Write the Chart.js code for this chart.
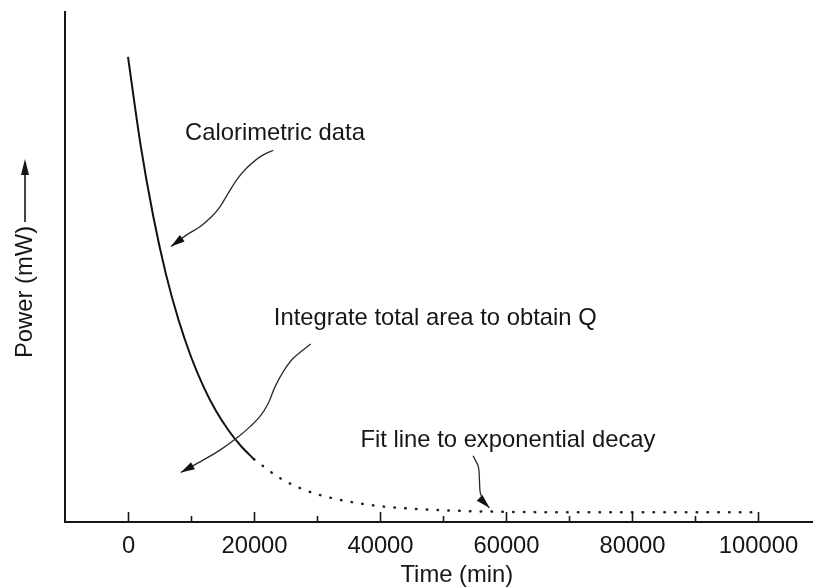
<!DOCTYPE html>
<html>
<head>
<meta charset="utf-8">
<title>Power (mW) vs Time (min)</title>
<script src="https://cdn.jsdelivr.net/npm/chart.js@4.4.1/dist/chart.umd.min.js"></script>
<style>
	html, body { margin: 0; padding: 0; background: #fff; }
	canvas { display: block; }
</style>
</head>
<body>
<canvas id="chart" width="813" height="588"></canvas>
<script>
// calorimetric data (solid)
var dataTime  = [0, 2000, 4000, 6000, 8000, 10000, 12000, 14000, 16000, 18000, 20000];
var dataPower = [91.2, 73.9, 60.0, 48.7, 39.7, 32.4, 26.5, 21.7, 17.9, 14.8, 12.3];

// exponential decay fit (dotted)
var fitTime  = [20000, 24000, 28000, 32000, 36000, 40000, 45000, 50000, 55000, 60000, 70000, 80000, 90000, 100000];
var fitPower = [12.3, 8.7, 6.3, 4.8, 3.8, 3.1, 2.6, 2.3, 2.1, 2.0, 1.9, 1.9, 1.9, 1.9];

// x axis
var timeMin = -10000;
var timeMax = 108730;
var tickStep = 10000;
var labelStep = 20000;
var tickFirst = 0;
var tickLast = 100000;

// annotations: label text, anchor (time, power) of the text baseline start
var noteText  = ['Calorimetric data', 'Integrate total area to obtain Q', 'Fit line to exponential decay'];
var noteTime  = [9050, 23150, 36900];
var notePower = [74.9, 38.6, 14.8];

// arrows, [time, power] points, last one is the tip
var arrowCalorimetric = [[23060, 72.9], [20950, 71.6], [18840, 69.4], [17250, 67.1], [15920, 64.5],
	[14600, 61.8], [13290, 59.9], [11430, 57.9], [9320, 56.3], [6830, 54.0]];
var arrowIntegrate = [[29000, 34.9], [26240, 32.1], [24650, 29.5], [23330, 26.5], [22270, 23.3],
	[20950, 20.7], [19370, 18.7], [17510, 16.7], [14600, 14.1], [11430, 11.8], [8370, 9.7]];
var arrowFit = [[54760, 13.0], [55620, 10.8], [55780, 8.3], [55940, 5.6], [56650, 3.7], [57380, 2.8]];

var FONT = '"Liberation Sans", Arial, Helvetica, sans-serif';
var INK = '#161616';
var TEXT = '23.8px ' + FONT;

var toPx = function (chart, pt) {
	return [chart.scales.x.getPixelForValue(pt[0]), chart.scales.y.getPixelForValue(pt[1])];
};

var drawHead = function (ctx, tip, from, len, half) {
	var a = Math.atan2(tip[1] - from[1], tip[0] - from[0]);
	ctx.beginPath();
	ctx.moveTo(tip[0], tip[1]);
	ctx.lineTo(tip[0] - len * Math.cos(a) + half * Math.sin(a), tip[1] - len * Math.sin(a) - half * Math.cos(a));
	ctx.lineTo(tip[0] - len * Math.cos(a) - half * Math.sin(a), tip[1] - len * Math.sin(a) + half * Math.cos(a));
	ctx.closePath();
	ctx.fill();
};

// smooth path through the points (catmull-rom as bezier), filled head at the end
var drawArrow = function (ctx, chart, pts) {
	var p = pts.map(function (pt) { return toPx(chart, pt); });
	var n = p.length, i, p0, p1, p2, p3;
	ctx.beginPath();
	ctx.moveTo(p[0][0], p[0][1]);
	for (i = 0; i < n - 1; i++) {
		p0 = p[i - 1] || p[i];
		p1 = p[i];
		p2 = p[i + 1];
		p3 = p[i + 2] || p2;
		ctx.bezierCurveTo(
			p1[0] + (p2[0] - p0[0]) / 6, p1[1] + (p2[1] - p0[1]) / 6,
			p2[0] - (p3[0] - p1[0]) / 6, p2[1] - (p3[1] - p1[1]) / 6,
			p2[0], p2[1]
		);
	}
	ctx.stroke();
	drawHead(ctx, p[n - 1], p[n - 2], 14, 4);
};

var decorations = {
	id: 'decorations',
	afterDraw: function (chart) {
		var ctx = chart.ctx, x = chart.scales.x, area = chart.chartArea, v, px, i;
		ctx.save();

		// inward tick marks and labels on the time axis
		ctx.strokeStyle = INK;
		ctx.fillStyle = INK;
		ctx.lineWidth = 1.6;
		ctx.font = TEXT;
		ctx.textAlign = 'center';
		ctx.textBaseline = 'alphabetic';
		for (v = tickFirst; v <= tickLast; v += tickStep) {
			px = Math.round(x.getPixelForValue(v)) + 0.5;
			ctx.beginPath();
			ctx.moveTo(px, area.bottom);
			ctx.lineTo(px, area.bottom - (v % labelStep === 0 ? 10 : 6));
			ctx.stroke();
			if (v % labelStep === 0) ctx.fillText(String(v), px, area.bottom + 31);
		}
		ctx.fillText('Time (min)', x.getPixelForValue(52200), area.bottom + 59.5);

		// notes
		ctx.textAlign = 'left';
		for (i = 0; i < noteText.length; i++) {
			px = toPx(chart, [noteTime[i], notePower[i]]);
			ctx.fillText(noteText[i], px[0], px[1]);
		}

		// arrows
		ctx.strokeStyle = '#2a2a2a';
		ctx.fillStyle = '#111';
		ctx.lineWidth = 1.3;
		drawArrow(ctx, chart, arrowCalorimetric);
		drawArrow(ctx, chart, arrowIntegrate);
		drawArrow(ctx, chart, arrowFit);

		// power title, rotated, with its arrow
		var title = 'Power (mW)';
		var tw = ctx.measureText(title).width;
		var cx = area.left - 40, cy = 292;
		ctx.fillStyle = INK;
		ctx.save();
		ctx.translate(cx, cy);
		ctx.rotate(-Math.PI / 2);
		ctx.textAlign = 'center';
		ctx.textBaseline = 'middle';
		ctx.fillText(title, 0, 0);
		ctx.restore();

		ctx.strokeStyle = INK;
		ctx.lineWidth = 1.6;
		ctx.beginPath();
		ctx.moveTo(cx, cy - tw / 2 - 4);
		ctx.lineTo(cx, 168);
		ctx.stroke();
		drawHead(ctx, [cx, 159], [cx, 200], 16, 4);

		ctx.restore();
	}
};

var chart = new Chart(document.getElementById('chart'), {
	type: 'line',
	data: {
		datasets: [
			{
				label: 'Calorimetric data',
				data: dataTime.map(function (t, i) { return { x: t, y: dataPower[i] }; }),
				borderColor: '#111',
				borderWidth: 2,
				pointRadius: 0,
				cubicInterpolationMode: 'monotone'
			},
			{
				label: 'Exponential fit',
				data: fitTime.map(function (t, i) { return { x: t, y: fitPower[i] }; }),
				borderColor: '#222',
				borderWidth: 2.5,
				borderDash: [0.5, 10.3],
				borderCapStyle: 'round',
				pointRadius: 0,
				cubicInterpolationMode: 'monotone'
			}
		]
	},
	options: {
		responsive: false,
		animation: false,
		events: [],
		layout: { padding: { left: 65, top: 12, right: 0, bottom: 66 } },
		plugins: {
			legend: { display: false },
			tooltip: { enabled: false }
		},
		scales: {
			x: {
				type: 'linear',
				min: timeMin,
				max: timeMax,
				grid: { display: false, drawTicks: false },
				border: { display: true, color: INK, width: 2 },
				ticks: { display: false, stepSize: tickStep }
			},
			y: {
				min: 0,
				max: 100,
				grid: { display: false, drawTicks: false },
				border: { display: true, color: INK, width: 2 },
				ticks: { display: false }
			}
		}
	},
	plugins: [decorations]
});
</script>
</body>
</html>
